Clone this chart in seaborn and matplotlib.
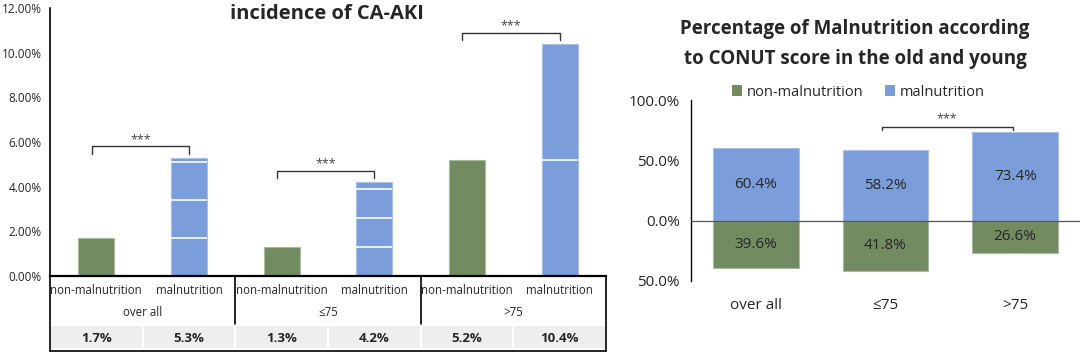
import numpy as np
import pandas as pd
import matplotlib
matplotlib.use("Agg")
import matplotlib.pyplot as plt
from matplotlib.patches import Rectangle, Patch
import seaborn as sns

# ---------------- data ----------------
groups = ["over all", "\u226475", ">75"]
statuses = ["non-malnutrition", "malnutrition"]
incidence_non = [1.7, 1.3, 5.2]          # % CA-AKI, non-malnutrition
incidence_mal = [5.3, 4.2, 10.4]         # % CA-AKI, malnutrition
overall_mal_segments = [1.7, 1.7, 1.7, 0.2]
young_mal_segments = [1.3, 1.3, 1.3, 0.3]
old_mal_segments = [5.2, 5.2]
left_yticks = [0, 2, 4, 6, 8, 10, 12]

pct_mal = [60.4, 58.2, 73.4]
pct_non = [39.6, 41.8, 26.6]
right_yticks = [-50, 0, 50, 100]

left_title = "incidence of CA-AKI"
right_title = "Percentage of Malnutrition according\nto CONUT score in the old and young"
sig = "***"

GREEN = "#728B61"
BLUE = "#7B9DD9"
GREEN_EDGE = "#A9BA9E"
BLUE_EDGE = "#A9C0EC"

sns.set_theme(style="white")
plt.rcParams["font.family"] = ["Open Sans", "DejaVu Sans"]

W, H = 1084, 355
fig = plt.figure(figsize=(W / 100, H / 100), dpi=100)

def fx(px):
    return px / W

def fy(py):
    return 1 - py / H

# ---------------- left chart ----------------
axL = fig.add_axes([fx(50), fy(276), fx(606) - fx(50), fy(8) - fy(276)])
rows = []
for g, n, m in zip(groups, incidence_non, incidence_mal):
    rows.append({"pos": g + "|" + statuses[0], "status": statuses[0], "value": n})
    rows.append({"pos": g + "|" + statuses[1], "status": statuses[1], "value": m})
dfL = pd.DataFrame(rows)
order = list(dfL["pos"])
sns.barplot(data=dfL, x="pos", y="value", hue="status", order=order,
            hue_order=statuses, palette=[GREEN, BLUE], dodge=False,
            width=0.39, ax=axL, legend=False, saturation=1)

seg_lists = [overall_mal_segments, young_mal_segments, old_mal_segments]
for p in axL.patches:
    cx = p.get_x() + p.get_width() / 2
    idx = int(round(cx))
    if idx % 2 == 1:
        p.set_edgecolor(BLUE_EDGE)
        segs = seg_lists[idx // 2]
        bounds = np.cumsum(segs)[:-1]
        axL.hlines(bounds, p.get_x(), p.get_x() + p.get_width(),
                   color="white", lw=1.2, zorder=5)
    else:
        p.set_edgecolor(GREEN_EDGE)
    p.set_linewidth(0.8)

axL.set_xlim(-0.5, 5.5)
axL.set_ylim(0, 12)
axL.set_yticks(left_yticks)
axL.set_yticklabels([f"{v:.2f}%" for v in left_yticks], fontsize=8.5)
axL.set_xticks([])
axL.set_xlabel("")
axL.set_ylabel("")
for s in ["top", "right"]:
    axL.spines[s].set_visible(False)
axL.spines["left"].set_color("black")
axL.spines["left"].set_linewidth(1.2)
axL.spines["bottom"].set_color("black")
axL.spines["bottom"].set_linewidth(1.6)
axL.tick_params(axis="y", direction="out", length=4, width=1, color="black", pad=2)
fig.text(fx(327), fy(14), left_title, ha="center", va="center",
         fontsize=14.5, fontweight="bold")

# significance brackets
def bracket(ax, x1, x2, ytop, leg, txt_off, fs):
    ax.plot([x1, x1, x2, x2], [ytop - leg, ytop, ytop, ytop - leg], color="#333333", lw=1)
    ax.text((x1 + x2) / 2, ytop + txt_off, sig, ha="center", va="bottom",
            fontsize=fs, color="#444444")

for i in range(3):
    top = max(incidence_non[i], incidence_mal[i])
    bracket(axL, 2 * i - 0.05, 2 * i + 1, top + 0.5, 0.32, 0.02, 9)

# table below left chart
axT = fig.add_axes([fx(50), fy(351), fx(606) - fx(50), fy(276) - fy(351)])
axT.set_xlim(-0.5, 5.5)
axT.set_ylim(75, 0)
axT.axis("off")
for i in range(6):
    axT.text(i, 15, statuses[i % 2], ha="center", va="center", fontsize=8.3)
for gi, g in enumerate(groups):
    axT.text(2 * gi + 0.5, 37, g, ha="center", va="center", fontsize=8.3)
vals = []
for n, m in zip(incidence_non, incidence_mal):
    vals += [n, m]
for i, v in enumerate(vals):
    axT.add_patch(Rectangle((i - 0.5, 49), 1, 24, facecolor="#EEEEEE",
                            edgecolor="white", lw=1.5))
    axT.text(i, 62, f"{v:.1f}%", ha="center", va="center", fontsize=9.5,
             fontweight="bold")
for xb in [1.5, 3.5]:
    axT.plot([xb, xb], [0, 48], color="black", lw=1.2, clip_on=False)
axT.plot([-0.5, -0.5], [0, 75], color="black", lw=1.2, clip_on=False)
axT.plot([5.5, 5.5], [0, 75], color="black", lw=1.2, clip_on=False)
axT.plot([-0.5, 5.5], [75, 75], color="black", lw=1.2, clip_on=False)

# ---------------- right chart ----------------
axR = fig.add_axes([fx(691), fy(281), fx(1080) - fx(691), fy(100) - fy(281)])
rowsR = []
for g, m, n in zip(groups, pct_mal, pct_non):
    rowsR.append({"group": g, "status": statuses[1], "value": m})
    rowsR.append({"group": g, "status": statuses[0], "value": -n})
dfR = pd.DataFrame(rowsR)
sns.barplot(data=dfR, x="group", y="value", hue="status", order=groups,
            hue_order=statuses, palette=[GREEN, BLUE], dodge=False,
            width=0.66, ax=axR, legend=False, saturation=1)
for p in axR.patches:
    if p.get_height() > 0:
        p.set_edgecolor(BLUE_EDGE)
    else:
        p.set_edgecolor(GREEN_EDGE)
    p.set_linewidth(0.8)
for i, (m, n) in enumerate(zip(pct_mal, pct_non)):
    axR.text(i, m / 2, f"{m:.1f}%", ha="center", va="center", fontsize=11)
    axR.text(i, -n / 2, f"{n:.1f}%", ha="center", va="center", fontsize=11)

axR.set_xlim(-0.5, 2.5)
axR.set_ylim(-50, 100)
axR.set_yticks(right_yticks)
axR.set_yticklabels([f"{abs(v):.1f}%" for v in right_yticks], fontsize=11)
axR.axhline(0, color="#555555", lw=0.9, zorder=3)
axR.set_xlabel("")
axR.set_ylabel("")
for s in ["top", "right", "bottom"]:
    axR.spines[s].set_visible(False)
axR.spines["left"].set_color("black")
axR.spines["left"].set_linewidth(1)
axR.tick_params(axis="y", direction="out", length=5, width=1, color="black", pad=3)
axR.tick_params(axis="x", length=0, pad=12, labelsize=11)

# bracket right chart
axR.plot([1 - 0.03, 1 - 0.03, 2 - 0.02, 2 - 0.02],
         [75, 78, 78, 75], color="#333333", lw=1, clip_on=False)
axR.text(1.47, 79, sig, ha="center", va="bottom", fontsize=9, color="#444444")

fig.text(fx(855), fy(29), right_title.split("\n")[0], ha="center", va="center",
         fontsize=13.5, fontweight="bold")
fig.text(fx(855), fy(59), right_title.split("\n")[1], ha="center", va="center",
         fontsize=13.5, fontweight="bold")

handles = [Patch(facecolor=GREEN, edgecolor="none"), Patch(facecolor=BLUE, edgecolor="none")]
fig.legend(handles, statuses, loc="center", bbox_to_anchor=(fx(858), fy(92)),
           ncol=2, frameon=False, fontsize=10.5, handlelength=0.7, handleheight=0.7,
           handletextpad=0.3, columnspacing=1.5)

fig.savefig("out.png", dpi=100)
